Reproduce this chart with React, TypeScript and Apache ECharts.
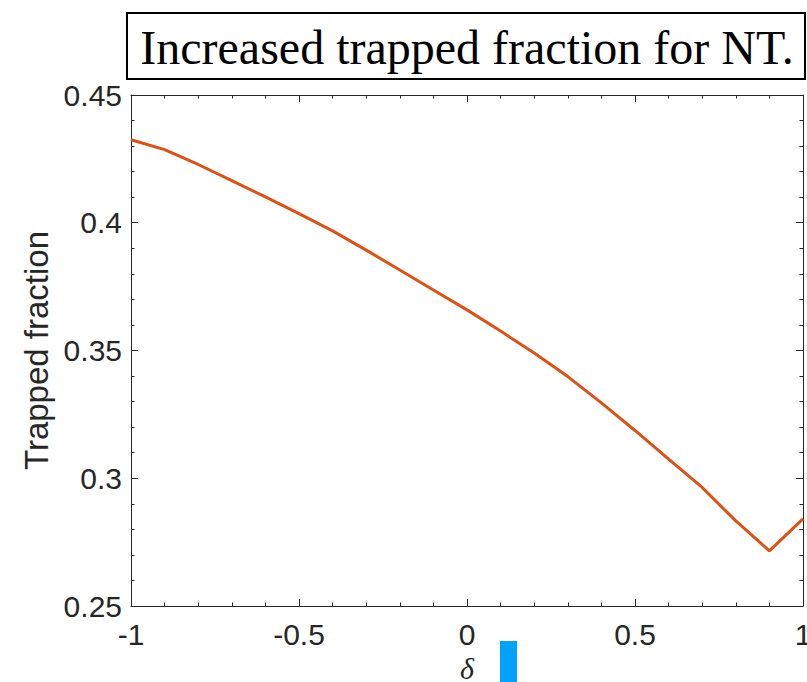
import React, { useEffect, useRef } from "react";
import * as echarts from "echarts";

// Shaping parameter δ sampled every 0.1
const deltaValues = [
  -1, -0.9, -0.8, -0.7, -0.6, -0.5, -0.4, -0.3, -0.2, -0.1, 0, 0.1, 0.2, 0.3, 0.4, 0.5, 0.6, 0.7, 0.8, 0.9, 1,
];
// Trapped particle fraction at each δ
const trappedFraction = [
  0.4325, 0.4286, 0.4228, 0.4165, 0.4101, 0.4036, 0.3968, 0.3893, 0.3815, 0.3737, 0.3659, 0.3576, 0.349,
  0.3398, 0.3295, 0.3187, 0.3075, 0.2964, 0.2833, 0.2716, 0.2841,
];

const titleText = "Increased trapped fraction for NT.";
const yLabel = "Trapped fraction";
const xLabel = "δ";

const AXIS_COLOR = "#262626";
const LINE_COLOR = "#D95319";

export default function App() {
  const ref = useRef<HTMLDivElement>(null);

  useEffect(() => {
    if (!ref.current) return;
    const chart = echarts.init(ref.current, undefined, { renderer: "svg", width: 807, height: 682 });

    const tickCommon = {
      axisLine: { show: true, onZero: false, lineStyle: { color: AXIS_COLOR, width: 1 } },
      axisTick: { show: true, inside: true, length: 7, lineStyle: { color: AXIS_COLOR, width: 1 } },
      minorTick: { show: true, splitNumber: 5, length: 3.5, lineStyle: { color: AXIS_COLOR, width: 1 } },
      splitLine: { show: false },
    };

    const labelFont = {
      fontFamily: "'Liberation Sans', Arial, sans-serif",
      fontSize: 30,
      color: AXIS_COLOR,
    };

    chart.setOption({
      animation: false,
      backgroundColor: "#ffffff",
      grid: {
        left: 131,
        right: 4,
        top: 95,
        bottom: 76,
        containLabel: false,
        outerBoundsMode: "none",
      },
      xAxis: [
        {
          type: "value",
          position: "bottom",
          min: -1,
          max: 1,
          interval: 0.5,
          ...tickCommon,
          axisLabel: { ...labelFont, margin: 13 },
          name: xLabel,
          nameLocation: "middle",
          nameGap: 45,
          nameTextStyle: {
            fontFamily: "'Liberation Serif', 'Times New Roman', serif",
            fontStyle: "italic",
            fontSize: 30,
            color: AXIS_COLOR,
          },
        },
        {
          type: "value",
          position: "top",
          min: -1,
          max: 1,
          interval: 0.5,
          ...tickCommon,
          axisLabel: { show: false },
        },
      ],
      yAxis: [
        {
          type: "value",
          position: "left",
          min: 0.25,
          max: 0.45,
          interval: 0.05,
          ...tickCommon,
          axisLabel: { ...labelFont, margin: 9 },
          name: yLabel,
          nameLocation: "middle",
          nameRotate: 90,
          nameGap: 76,
          nameTextStyle: {
            fontFamily: "'Liberation Sans', Arial, sans-serif",
            fontSize: 33,
            color: AXIS_COLOR,
          },
        },
        {
          type: "value",
          position: "right",
          min: 0.25,
          max: 0.45,
          interval: 0.05,
          ...tickCommon,
          axisLabel: { show: false },
        },
      ],
      series: [
        {
          type: "line",
          xAxisIndex: 0,
          yAxisIndex: 0,
          data: deltaValues.map((d, i) => [d, trappedFraction[i]]),
          showSymbol: false,
          lineStyle: { color: LINE_COLOR, width: 3 },
          itemStyle: { color: LINE_COLOR },
        },
      ],
      graphic: [
        {
          type: "rect",
          shape: { x: 127, y: 13, width: 678, height: 66 },
          style: { fill: "#ffffff", stroke: "#000000", lineWidth: 2 },
        },
        {
          type: "text",
          x: 467,
          y: 47,
          style: {
            text: titleText,
            fontFamily: "'Liberation Serif', 'Times New Roman', serif",
            fontSize: 48,
            fill: "#000000",
            align: "center",
            verticalAlign: "middle",
          },
        },
        {
          type: "rect",
          shape: { x: 500, y: 641, width: 17, height: 45 },
          style: { fill: "#00A2FF" },
        },
      ],
    });

    return () => chart.dispose();
  }, []);

  return (
    <div
      ref={ref}
      style={{ position: "absolute", left: 0, top: 0, width: 807, height: 682, background: "#fff" }}
    />
  );
}
